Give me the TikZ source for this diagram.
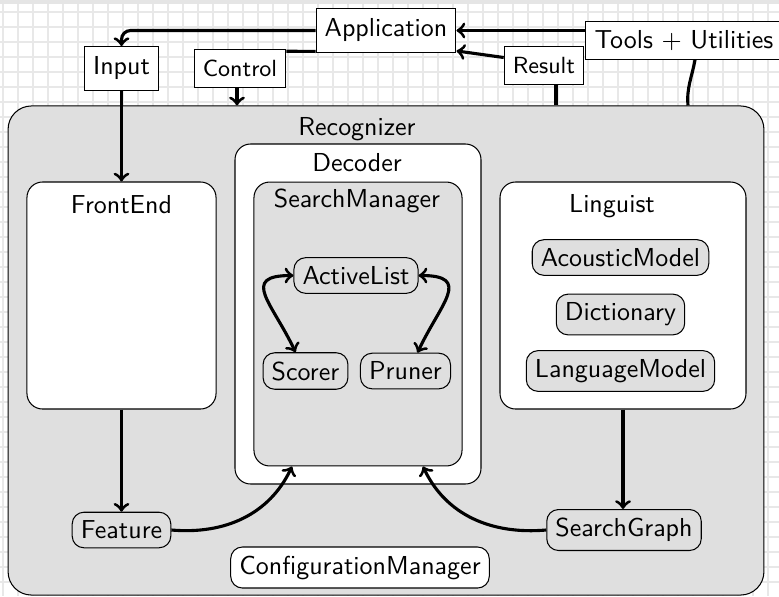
\documentclass[tikz,border=0pt]{standalone}
\usepackage{tikz}
\usetikzlibrary{calc,positioning}

\definecolor{boxgray}{gray}{0.875}
\definecolor{gridgray}{gray}{0.91}

\begin{document}
\begin{tikzpicture}[x=0.385pt, y=0.385pt, font=\sffamily,
      plain/.style={rectangle, draw, fill=white, thin, inner ysep=4pt},
      small/.style={plain, font=\sffamily\small},
      module/.style={rectangle, draw, rounded corners=6pt, fill=white, thin},
      comp/.style={rectangle, draw, rounded corners=4.5pt, fill=boxgray, thin},
      title/.style={anchor=base},
      line/.style={draw, very thick},
      arrow/.style={draw, ->, very thick},
      gridline/.style={draw=gridgray, line width=0.4pt}]

      % Background
      \useasboundingbox (0,0) rectangle (779,-596);
      \fill[gray!20] (0,0) rectangle (779,-4);
      \foreach \gx in {3,18,...,778} \draw[gridline] (\gx,-4) -- (\gx,-596);
      \foreach \gy in {12,27,...,596} \draw[gridline] (0,-\gy) -- (779,-\gy);

      % Nodes
      \node [plain] (Application) at (386,-30.5) {Application};
      \node [plain, inner ysep=3.333pt] (Tools) at (684,-40.5) {Tools + Utilities};
      \node [plain] (Input) at (121.5,-68.5) {Input};
      \node [small] (Control) at (240,-68.5) {Control};
      \node [small] (Result) at (544,-65.5) {Result};

      \node [module, fill=boxgray, rounded corners=9pt, minimum width=291pt, minimum height=188.3pt] (Recognizer) at (386,-350.5) {};
      \node [title] (RecognizerLabel) at (357,-135) {Recognizer};

      \node [module, minimum width=72.8pt, minimum height=87.4pt] (FrontEnd) at (121.5,-295.5) {};
      \node [title] (FrontEndLabel) at (121.5,-213) {FrontEnd};

      \node [module, minimum width=94.7pt, minimum height=130.9pt] (Decoder) at (358,-314) {};
      \node [title] (DecoderLabel) at (357,-171) {Decoder};
      \node [module, fill=boxgray, minimum width=80.1pt, minimum height=109.3pt] (SearchManager) at (358,-324) {};
      \node [title] (SearchManagerLabel) at (357,-207) {SearchManager};
      \node [comp] (ActiveList) at (356,-275.5) {ActiveList};
      \node [comp] (Scorer) at (305.5,-371) {Scorer};
      \node [comp] (Pruner) at (405.5,-371) {Pruner};

      \node [module, minimum width=94.7pt, minimum height=87.4pt] (Linguist) at (623,-295.5) {};
      \node [title] (LinguistLabel) at (612,-212) {Linguist};
      \node [comp] (AcousticModel) at (620.5,-257.5) {AcousticModel};
      \node [comp] (Dictionary) at (620.5,-314.5) {Dictionary};
      \node [comp] (LanguageModel) at (620.5,-371) {LanguageModel};

      \node [comp] (Feature) at (121.5,-530) {Feature};
      \node [comp] (SearchGraph) at (624,-530) {SearchGraph};
      \node [comp, fill=white] (ConfigurationManager) at (360,-567.5) {ConfigurationManager};

      \coordinate (ctrlTop) at ($(Control.south)+(-3,0)$);
      \coordinate (ctrlFoot) at (ctrlTop |- Recognizer.north);
      \coordinate (resTop) at ($(Result.south)+(12,0)$);
      \coordinate (toolsFoot) at ($(Recognizer.north)+(302,0)$);

      % Edges
      \draw [arrow, rounded corners=3.5pt] (Application.west) -| (Input.north);
      \draw [line] ($(Application.south west)+(0,1.5)$) -- ($(Control.north east)+(0,-2)$);
      \draw [arrow] (ctrlTop) -- (ctrlFoot);
      \draw [line] (resTop |- Recognizer.north) -- (resTop);
      \draw [arrow] ($(Result.west)+(0,8)$) -- ($(Application.south east)+(0,2)$);
      \draw [arrow] (Tools.west |- Application.east) -- (Application.east);
      \draw [line] ($(Tools.south)+(11,0)$) to[out=-100, in=95] (toolsFoot);
      \draw [arrow] (Input.south) -- (FrontEnd.north);
      \draw [arrow] (FrontEnd.south) -- (Feature.north);
      \draw [arrow] (Linguist.south) -- (Linguist.south |- SearchGraph.north);
      \draw [arrow] (Feature.east) to[out=-5, in=-115] ($(SearchManager.south)+(-66,0)$);
      \draw [arrow] (SearchGraph.west) to[out=185, in=-65] ($(SearchManager.south)+(65,0)$);
      \draw [arrow, <->] (ActiveList.west) to[out=180, in=115, looseness=1.8] ($(Scorer.north)+(-10,0)$);
      \draw [arrow, <->] (ActiveList.east) to[out=0, in=65, looseness=1.8] ($(Pruner.north)+(12,0)$);

    \end{tikzpicture}
\end{document}
